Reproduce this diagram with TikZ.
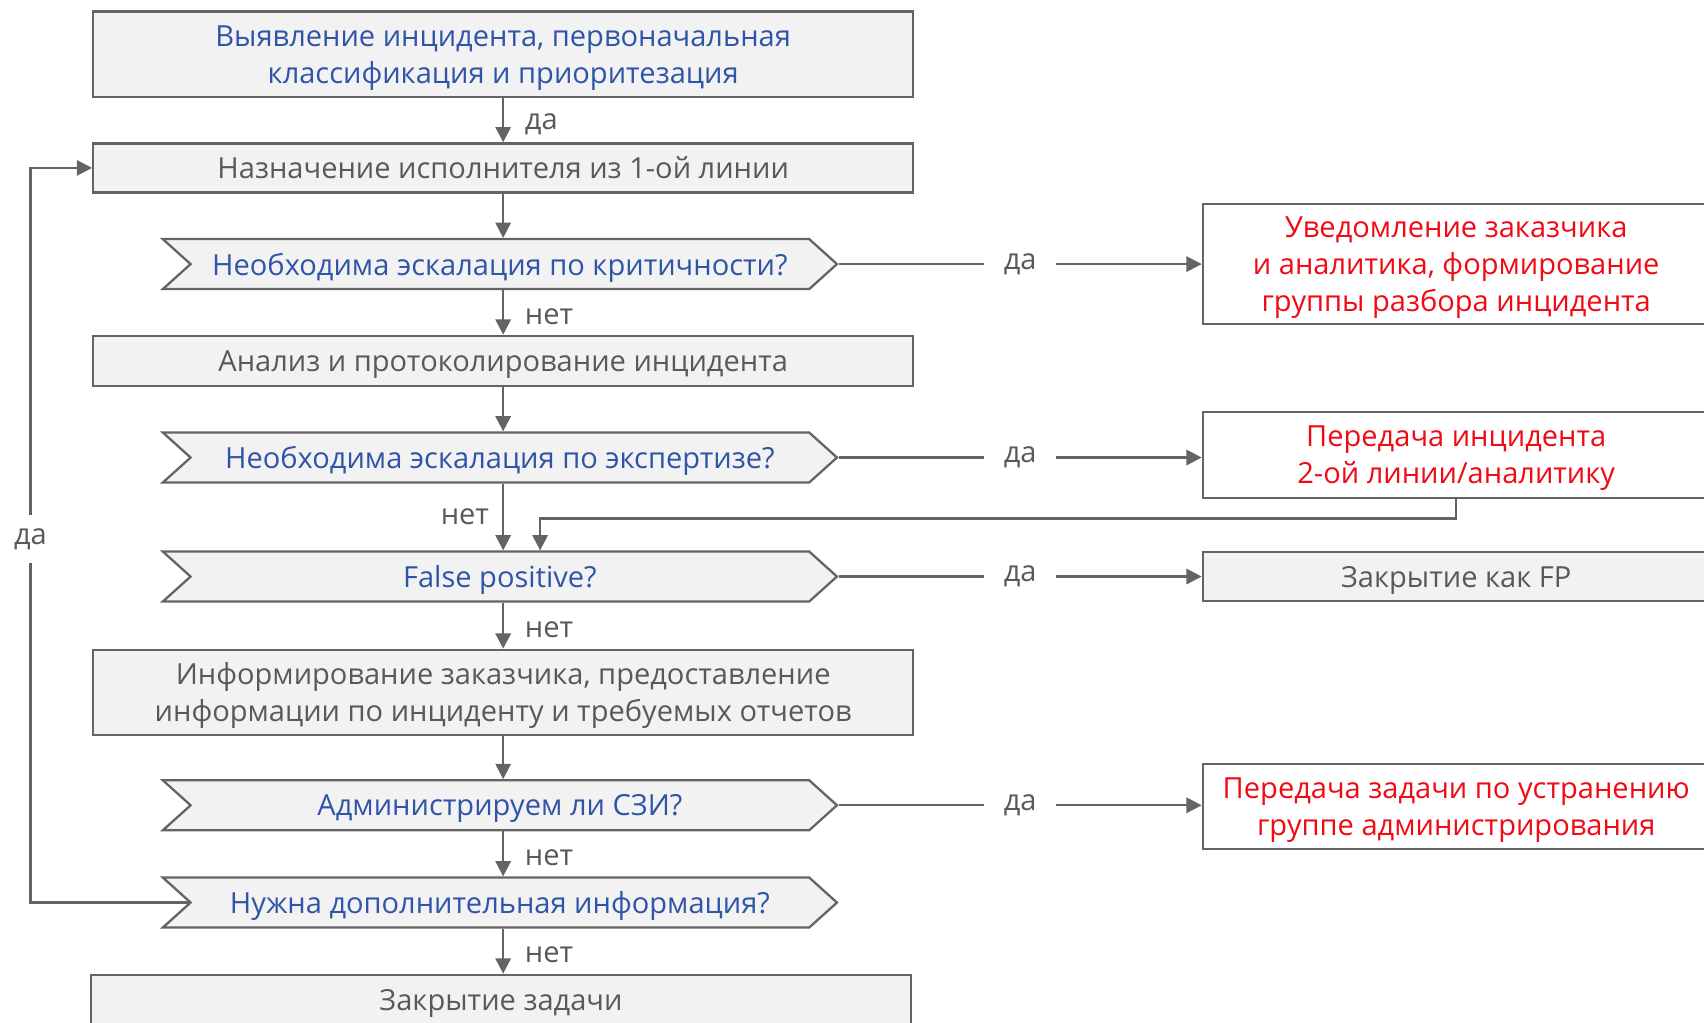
\documentclass[tikz,border=0pt]{standalone}
\usepackage{fontspec}
\setmainfont{Open Sans}
\usetikzlibrary{shapes.symbols,arrows.meta}
\definecolor{txtblue}{RGB}{47,84,168}
\definecolor{txtred}{RGB}{240,10,20}
\definecolor{txtgray}{RGB}{89,89,89}
\definecolor{linegray}{RGB}{100,100,100}
\definecolor{boxfill}{RGB}{242,242,242}

\begin{document}
\begin{tikzpicture}[x=0.01cm,y=-0.01cm,
  font=\fontsize{7.6}{9.7}\selectfont,
  box/.style={draw=linegray,line width=0.6pt,fill=boxfill,minimum width=7.54cm,inner sep=0pt,text depth=0pt,align=center,text=txtgray},
  ask/.style={signal,signal to=east,signal from=west,signal pointer angle=84,draw=linegray,line width=0.6pt,fill=boxfill,minimum width=6.2cm,minimum height=0.46cm,inner sep=0pt,text depth=0pt,text=txtblue},
  act/.style={draw=linegray,line width=0.6pt,fill=white,minimum width=4.66cm,inner sep=0pt,text depth=0pt,align=center,text=txtred},
  arr/.style={draw=linegray,line width=0.6pt,-{Triangle[length=4pt,width=4pt]}},
  lbl/.style={text=txtgray,inner sep=2pt}]
\clip (0,0) rectangle (1568,941);

% main column
\node[box,minimum height=0.79cm,text=txtblue] (detect) at (463,50) {Выявление инцидента, первоначальная\\классификация и приоритезация};
\node[box,minimum height=0.45cm] (assign) at (463,154.5) {Назначение исполнителя из 1-ой линии};
\node[ask] (critq) at (460,243) {Необходима эскалация по критичности?};
\node[box,minimum height=0.46cm] (analyse) at (463,332) {Анализ и протоколирование инцидента};
\node[ask] (expq) at (460,421) {Необходима эскалация по экспертизе?};
\node[ask] (fpq) at (460,530.5) {False positive?};
\node[box,minimum height=0.78cm] (inform) at (463,637) {Информирование заказчика, предоставление\\информации по инциденту и требуемых отчетов};
\node[ask] (adminq) at (460,741) {Администрируем ли СЗИ?};
\node[ask] (infoq) at (460,830.5) {Нужна дополнительная информация?};
\node[box,minimum height=0.46cm] (close) at (461,920) {Закрытие задачи};

% right column
\node[act,minimum height=1.10cm] (notify) at (1340,243) {Уведомление заказчика\\и аналитика, формирование\\группы разбора инцидента};
\node[act,minimum height=0.79cm] (handover) at (1340,418.5) {Передача инцидента\\2-ой линии/аналитику};
\node[box,minimum width=4.66cm,minimum height=0.45cm] (closefp) at (1340,530.5) {Закрытие как FP};
\node[act,minimum height=0.78cm] (admin) at (1340,742) {Передача задачи по устранению\\группе администрирования};

% vertical flow
\draw[arr] (detect.south) -- node[lbl,right=3.4pt,yshift=-1pt] {да} (assign.north);
\draw[arr] (assign.south) -- (assign.south |- critq.north);
\draw[arr] (critq.south -| assign.south) -- node[lbl,right=3.4pt,yshift=-1pt] {нет} (analyse.north);
\draw[arr] (analyse.south) -- (analyse.south |- expq.north);
\draw[arr] (expq.south -| analyse.south) -- node[lbl,left=1.4pt] {нет} (analyse.south |- fpq.north);
\draw[arr] (fpq.south -| inform.north) -- node[lbl,right=3.4pt,yshift=-1pt] {нет} (inform.north);
\draw[arr] (inform.south) -- (inform.south |- adminq.north);
\draw[arr] (adminq.south -| inform.south) -- node[lbl,right=3.4pt,yshift=-1pt] {нет} (inform.south |- infoq.north);
\draw[arr] (infoq.south -| inform.south) -- node[lbl,right=3.4pt,yshift=-1pt] {нет} (inform.south |- close.north);

% yes branches
\draw[arr] (critq.east) -- node[lbl,fill=white,inner xsep=0.18cm] {да} (critq.east -| notify.west);
\draw[arr] (expq.east) -- node[lbl,fill=white,inner xsep=0.18cm] {да} (expq.east -| handover.west);
\draw[arr] (fpq.east) -- node[lbl,fill=white,inner xsep=0.18cm] {да} (fpq.east -| closefp.west);
\draw[arr] (adminq.east) -- node[lbl,fill=white,inner xsep=0.18cm] {да} (adminq.east -| admin.west);

% back from 2nd line
\draw[arr] (handover.south) -- ++(0,18) -| ([xshift=0.37cm]fpq.north);

% loop for more info
\coordinate (loopbot) at (28,830.5);
\draw[arr] (infoq.west) -- (loopbot) |- node[lbl,pos=0.25,fill=white,inner ysep=0.12cm,yshift=-1pt] {да} (assign.west);
\end{tikzpicture}
\end{document}
